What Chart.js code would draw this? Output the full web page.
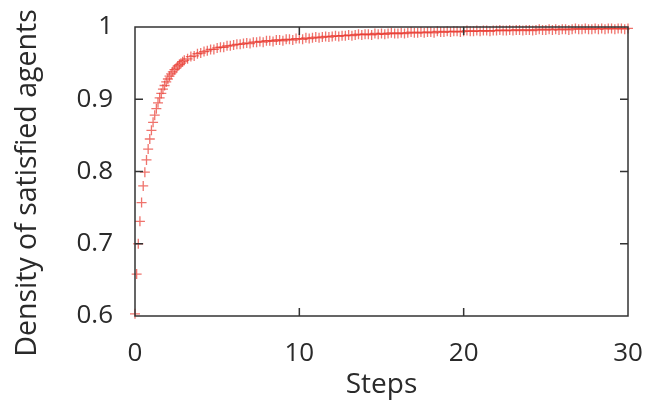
<!DOCTYPE html>
<html>
<head>
<meta charset="utf-8">
<script src="https://cdn.jsdelivr.net/npm/chart.js@4"></script>
<style>
  html, body { margin: 0; padding: 0; background: #fff; }
  canvas { display: block; }
</style>
</head>
<body>
<canvas id="myChart" width="650" height="402"></canvas>
<script>
// Data
const stepsEarly = [0, 0.1, 0.2, 0.3, 0.4, 0.5, 0.6, 0.7, 0.8, 0.9,
  1.0, 1.1, 1.2, 1.3, 1.4, 1.5, 1.6, 1.7, 1.8, 1.9,
  2.0, 2.1, 2.2, 2.3, 2.4, 2.5, 2.6, 2.7, 2.8, 2.9, 3.0];
const densityEarly = [0.603, 0.658, 0.700, 0.731, 0.757, 0.780, 0.799, 0.816, 0.831, 0.845,
  0.857, 0.868, 0.878, 0.887, 0.895, 0.902, 0.908, 0.914, 0.919, 0.924,
  0.928, 0.932, 0.935, 0.938, 0.941, 0.943, 0.946, 0.948, 0.950, 0.952, 0.954];

const stepsLate = [3.2, 3.4, 3.6, 3.8, 4.0, 4.2, 4.4, 4.6, 4.8, 5.0,
  5.2, 5.4, 5.6, 5.8, 6.0, 6.2, 6.4, 6.6, 6.8, 7.0,
  7.2, 7.4, 7.6, 7.8, 8.0, 8.2, 8.4, 8.6, 8.8, 9.0,
  9.2, 9.4, 9.6, 9.8, 10.0, 10.2, 10.4, 10.6, 10.8, 11.0,
  11.2, 11.4, 11.6, 11.8, 12.0, 12.2, 12.4, 12.6, 12.8, 13.0,
  13.2, 13.4, 13.6, 13.8, 14.0, 14.2, 14.4, 14.6, 14.8, 15.0,
  15.2, 15.4, 15.6, 15.8, 16.0, 16.2, 16.4, 16.6, 16.8, 17.0,
  17.2, 17.4, 17.6, 17.8, 18.0, 18.2, 18.4, 18.6, 18.8, 19.0,
  19.2, 19.4, 19.6, 19.8, 20.0, 20.2, 20.4, 20.6, 20.8, 21.0,
  21.2, 21.4, 21.6, 21.8, 22.0, 22.2, 22.4, 22.6, 22.8, 23.0,
  23.2, 23.4, 23.6, 23.8, 24.0, 24.2, 24.4, 24.6, 24.8, 25.0,
  25.2, 25.4, 25.6, 25.8, 26.0, 26.2, 26.4, 26.6, 26.8, 27.0,
  27.2, 27.4, 27.6, 27.8, 28.0, 28.2, 28.4, 28.6, 28.8, 29.0,
  29.2, 29.4, 29.6, 29.8, 30.0];
const densityLate = [0.956, 0.959, 0.960, 0.963, 0.964, 0.966, 0.967, 0.969, 0.969, 0.971,
  0.972, 0.972, 0.974, 0.974, 0.975, 0.976, 0.976, 0.977, 0.978, 0.977,
  0.979, 0.979, 0.980, 0.979, 0.981, 0.981, 0.980, 0.982, 0.982, 0.981,
  0.983, 0.983, 0.982, 0.984, 0.984, 0.983, 0.985, 0.984, 0.985, 0.986,
  0.985, 0.986, 0.987, 0.986, 0.987, 0.988, 0.987, 0.988, 0.988, 0.989,
  0.988, 0.989, 0.990, 0.989, 0.990, 0.990, 0.989, 0.991, 0.990, 0.991,
  0.990, 0.991, 0.992, 0.991, 0.991, 0.992, 0.991, 0.992, 0.993, 0.992,
  0.992, 0.993, 0.992, 0.993, 0.993, 0.992, 0.994, 0.993, 0.993, 0.994,
  0.993, 0.994, 0.994, 0.993, 0.994, 0.995, 0.994, 0.994, 0.995, 0.994,
  0.995, 0.995, 0.994, 0.995, 0.995, 0.996, 0.995, 0.995, 0.996, 0.995,
  0.996, 0.996, 0.995, 0.996, 0.996, 0.995, 0.996, 0.997, 0.996, 0.996,
  0.997, 0.996, 0.997, 0.996, 0.997, 0.997, 0.996, 0.997, 0.998, 0.997,
  0.997, 0.998, 0.997, 0.997, 0.998, 0.997, 0.998, 0.997, 0.998, 0.998,
  0.997, 0.998, 0.998, 0.997, 0.998];

const xTicks = [0, 10, 20, 30];
const yTicks = [0.6, 0.7, 0.8, 0.9, 1];

const steps = stepsEarly.concat(stepsLate);
const density = densityEarly.concat(densityLate);
const points = steps.map((s, k) => ({ x: s, y: density[k] }));

const FONT = "'Open Sans', 'DejaVu Sans', sans-serif";
const INK = "#2a2a2a";

// box around the plot with inward ticks on all four sides, plus y title
const frame = {
  id: "frame",
  afterDraw(chart) {
    const { ctx, chartArea: a, scales } = chart;
    ctx.save();
    ctx.strokeStyle = "#333";
    ctx.lineWidth = 1.5;
    ctx.strokeRect(a.left, a.top, a.right - a.left, a.bottom - a.top);
    const len = 8;
    ctx.beginPath();
    xTicks.slice(1, -1).forEach((v) => {
      const px = scales.x.getPixelForValue(v);
      ctx.moveTo(px, a.bottom); ctx.lineTo(px, a.bottom - len);
      ctx.moveTo(px, a.top); ctx.lineTo(px, a.top + len);
    });
    yTicks.slice(1, -1).forEach((v) => {
      const py = scales.y.getPixelForValue(v);
      ctx.moveTo(a.left, py); ctx.lineTo(a.left + len, py);
      ctx.moveTo(a.right, py); ctx.lineTo(a.right - len, py);
    });
    ctx.stroke();

    ctx.translate(36, 183);
    ctx.rotate(-Math.PI / 2);
    ctx.fillStyle = INK;
    ctx.font = "28.5px " + FONT;
    ctx.textAlign = "center";
    ctx.textBaseline = "alphabetic";
    ctx.fillText("Density of satisfied agents", 0, 0);
    ctx.restore();
  },
};

const ctx = document.getElementById("myChart");

new Chart(ctx, {
  type: "scatter",
  data: {
    datasets: [
      {
        label: "density",
        data: points,
        pointStyle: "cross",
        pointRadius: 5,
        borderWidth: 1.3,
        borderColor: "rgba(232, 55, 45, 0.7)",
        backgroundColor: "rgba(232, 55, 45, 0.7)",
        clip: false,
      },
    ],
  },
  options: {
    responsive: false,
    animation: false,
    events: [],
    layout: { padding: { top: 27, right: 22, left: 0, bottom: 0 } },
    plugins: {
      legend: { display: false },
      tooltip: { enabled: false },
    },
    scales: {
      x: {
        type: "linear",
        min: 0,
        max: 30,
        afterBuildTicks: (s) => { s.ticks = xTicks.map((v) => ({ value: v })); },
        afterFit: (s) => { s.height = 86; s.paddingLeft = 0; s.paddingRight = 0; },
        grid: { display: false, drawTicks: false },
        border: { display: false },
        ticks: {
          color: INK,
          font: { family: FONT, size: 26 },
          padding: 22,
          maxRotation: 0,
        },
        title: {
          display: true,
          text: "Steps",
          color: INK,
          font: { family: FONT, size: 28 },
          padding: { top: 0, bottom: 0 },
        },
      },
      y: {
        min: 0.6,
        max: 1,
        afterBuildTicks: (s) => { s.ticks = yTicks.map((v) => ({ value: v })); },
        afterFit: (s) => { s.width = 135; s.paddingTop = 0; s.paddingBottom = 0; },
        grid: { display: false, drawTicks: false },
        border: { display: false },
        ticks: {
          color: INK,
          font: { family: FONT, size: 26 },
          padding: 22,
          callback: (v) => String(+v.toFixed(1)),
        },
      },
    },
  },
  plugins: [frame],
});
</script>
</body>
</html>
